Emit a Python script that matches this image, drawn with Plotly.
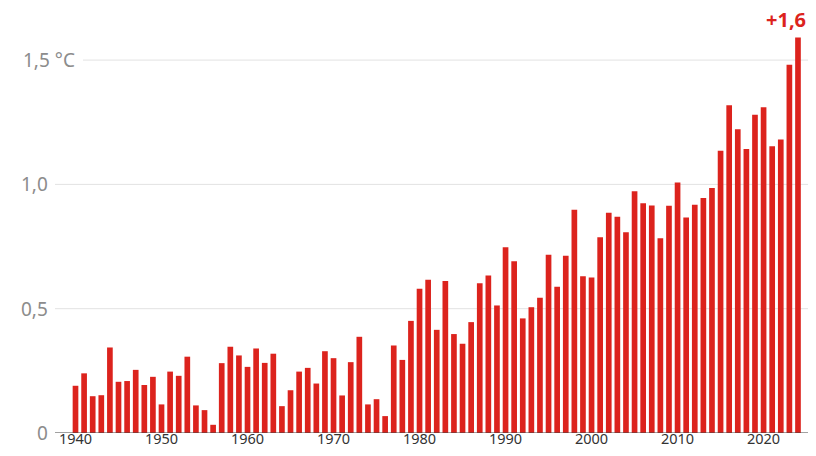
import plotly.graph_objects as go

years = list(range(1940, 2025))
anomaly = [
    0.19, 0.24, 0.148, 0.152, 0.344, 0.206, 0.209, 0.254, 0.193, 0.226,
    0.115, 0.247, 0.23, 0.307, 0.111, 0.092, 0.033, 0.281, 0.347, 0.312,
    0.266, 0.34, 0.282, 0.319, 0.108, 0.172, 0.247, 0.262, 0.199, 0.329,
    0.301, 0.151, 0.285, 0.387, 0.115, 0.136, 0.068, 0.352, 0.294, 0.451,
    0.58, 0.616, 0.415, 0.611, 0.398, 0.359, 0.446, 0.602, 0.634, 0.513,
    0.747, 0.691, 0.461, 0.506, 0.544, 0.717, 0.588, 0.713, 0.898, 0.631,
    0.626, 0.787, 0.886, 0.87, 0.808, 0.972, 0.924, 0.915, 0.783, 0.914,
    1.008, 0.867, 0.918, 0.945, 0.986, 1.135, 1.318, 1.222, 1.142, 1.28,
    1.31, 1.153, 1.181, 1.481, 1.591,
]
x_ticks = [1940, 1950, 1960, 1970, 1980, 1990, 2000, 2010, 2020]
y_ticks = [0, 0.5, 1.0, 1.5]
y_tick_labels = ["0", "0,5", "1,0", "1,5 °C"]
last_label = "+1,6"

RED = "#dc231d"
FONT = "Noto Sans"

# page is rendered with an 8px body margin on each side; keep the figure inside the window
OFF = 8
W = 816 - 2 * OFF
H = 456 - 2 * OFF
L = 55 - OFF
plot_w = W - L

def px_to_paper(page_px):
    return (page_px - OFF - L) / plot_w

fig = go.Figure()
fig.add_trace(go.Bar(x=years, y=anomaly, marker=dict(color=RED, line=dict(width=0)),
                     hoverinfo="x+y"))

shapes = []
annotations = []
label_font = dict(family=FONT, size=19, color="#8c8c8c")
for v, lab in zip(y_ticks, y_tick_labels):
    if v != 0:
        x0 = px_to_paper(83) if lab.endswith("°C") else 0
        shapes.append(dict(type="line", xref="paper", yref="y", x0=x0, x1=1, y0=v, y1=v,
                           line=dict(color="#e2e2e2", width=1), layer="below"))
    if lab.endswith("°C"):
        annotations.append(dict(xref="paper", yref="y", x=px_to_paper(21), y=v,
                                text=lab.replace(" °C", "&nbsp;°C"),
                                xanchor="left", yanchor="middle", showarrow=False,
                                font=label_font))
    else:
        annotations.append(dict(xref="paper", yref="y", x=px_to_paper(50), y=v, text=lab,
                                xanchor="right", yanchor="middle", showarrow=False,
                                font=label_font))
# baseline
shapes.append(dict(type="line", xref="paper", yref="y", x0=0, x1=1, y0=0, y1=0,
                   line=dict(color="#444444", width=1.2), layer="above"))
# last value label
annotations.append(dict(x=years[-1], y=anomaly[-1], text="<b>" + last_label + "</b>",
                        xanchor="right", yanchor="bottom", xshift=10, yshift=2,
                        showarrow=False, font=dict(family=FONT, size=20, color=RED)))

x_lo = 1940 + (55 - 75.5) / 8.601
x_hi = 1940 + (816 - OFF - 75.5) / 8.601

fig.update_layout(
    width=W, height=H,
    margin=dict(l=L, r=0, t=2, b=H - (433 - OFF)),
    paper_bgcolor="white", plot_bgcolor="white",
    showlegend=False, bargap=0.34,
    shapes=shapes, annotations=annotations,
    xaxis=dict(range=[x_lo, x_hi], tickvals=x_ticks, ticktext=[str(t) for t in x_ticks],
               showgrid=False, zeroline=False, showline=False, ticks="", ticklen=0,
               ticklabelstandoff=-5, automargin=False,
               tickfont=dict(family=FONT, size=14.5, color="#333333"), fixedrange=True),
    yaxis=dict(range=[0, (433 - 10) / 248.6], showgrid=False, zeroline=False,
               showticklabels=False, showline=False, fixedrange=True, automargin=False),
)

fig.write_html("out.html")
